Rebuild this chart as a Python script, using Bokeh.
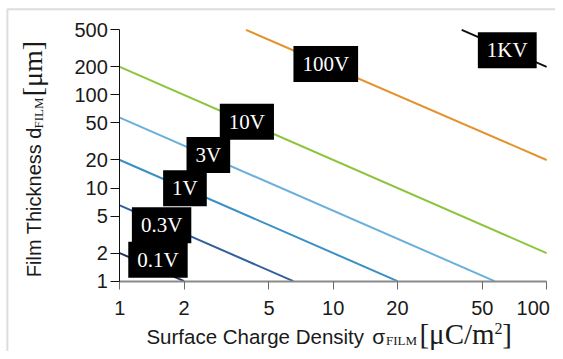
import math
from bokeh.plotting import figure
from bokeh.models import FixedTicker, Label, ColumnDataSource, BoxAnnotation
from bokeh.embed import file_html
from bokeh.resources import INLINE

# ---- data (line end points inside the axes box) ----
voltages = ["0.1V", "0.3V", "1V", "3V", "10V", "100V", "1KV"]
sigma_start = [1, 1, 1, 1, 1, 3.9, 40]          # uC/m^2
sigma_end = [2, 6.5, 20, 57, 100, 100, 100]
d_start = [2, 6.5, 20, 57, 200, 500, 500]       # um
d_end = [1, 1, 1, 1, 2, 20, 200]
line_colors = ["#24325e", "#2f5f9c", "#3a8fc4", "#6ab0dc", "#8cc43c", "#e3922c", "#111111"]

# label anchor positions (data coords)
label_x = [1.51, 1.57, 2.02, 2.60, 3.94, 9.23, 65.4]
label_y = [1.70, 3.97, 9.95, 22.6, 51.5, 215, 301]

x_ticks = [1, 2, 5, 10, 20, 50, 100]
x_tick_labels = ["1", "2", "5", "10", "20", "50", "100\u00a0"]
y_ticks = [1, 2, 5, 10, 20, 50, 100, 200, 500]
y_tick_labels = ["1", "2", "5", "10", "20", "50", "100", "200", "500"]

W, H = 555, 351
SX, SY = W / 563, H / 359          # reference px -> figure px
# axes geometry: x=1 at ref px 121, x=100 at 554; y=1 at ref px 287, y=500 at 30
xl, xr = 121 * SX, 554 * SX
yb, yt = 287 * SY, 30 * SY
pdx = (xr - xl) / 2.0
pdy = (yb - yt) / math.log10(500)
x0 = 10 ** (-xl / pdx)
x1 = 10 ** ((W - xl) / pdx)
y0 = 10 ** (-(H - yb) / pdy)
y1 = 10 ** (yb / pdy)

p = figure(width=W, height=H, x_axis_type="log", y_axis_type="log",
           x_range=(x0, x1), y_range=(y0, y1),
           output_backend="svg", toolbar_location=None,
           min_border=0)
p.outline_line_color = None
p.grid.visible = False
p.background_fill_color = "white"
p.border_fill_color = "white"

# thin grey page frame (left and top edges only visible)
p.add_layout(BoxAnnotation(left=7 * SX, right=W + 50, top=H - 9 * SY, bottom=-50,
                           left_units="screen", right_units="screen",
                           top_units="screen", bottom_units="screen",
                           fill_color=None, line_color="#8e8e8e", line_width=2))

xa = p.xaxis[0]
ya = p.yaxis[0]
xa.fixed_location = 1
xa.bounds = (1, 100)
ya.fixed_location = 1
ya.bounds = (1, 500)

xa.ticker = FixedTicker(ticks=x_ticks)
xa.major_label_overrides = dict(zip(x_ticks, x_tick_labels))
ya.ticker = FixedTicker(ticks=y_ticks)
ya.major_label_overrides = dict(zip(y_ticks, y_tick_labels))

for ax in (xa, ya):
    ax.minor_tick_line_color = None
    ax.major_label_text_font = "Liberation Sans"
    ax.major_label_text_font_size = "20px"
    ax.major_label_text_color = "#1a1a1a"
    ax.major_tick_in = 0
    ax.axis_label = None

xa.axis_line_color = "#8a8a8a"
xa.major_tick_line_color = "#6a6a6a"
xa.axis_line_width = 2
xa.major_tick_out = 8
xa.major_label_standoff = 8
ya.axis_line_color = "#111111"
ya.major_tick_line_color = "#111111"
ya.major_tick_out = 9
ya.major_label_standoff = 3

for xs, xe, ys, ye, c in zip(sigma_start, sigma_end, d_start, d_end, line_colors):
    src = ColumnDataSource(dict(x=[xs, xe], y=[ys, ye]))
    p.line("x", "y", source=src, line_color=c, line_width=2)

for v, lx, ly in zip(voltages, label_x, label_y):
    p.add_layout(Label(x=lx, y=ly, text=v, text_color="white",
                       text_font="Liberation Serif", text_font_size="21px",
                       text_align="center", text_baseline="middle",
                       background_fill_color="black", padding=(9, 6)))

# ---- axis titles built from pieces (given in reference px; screen origin = bottom-left) ----
def piece(rx, ry, text, font, size, angle=0.0):
    shift = 0.3 * size
    if angle == 0.0:
        fx, fy = rx * SX, ry * SY - shift
    else:
        fx, fy = rx * SX - shift, ry * SY
    p.add_layout(Label(x=fx, y=H - fy, x_units="screen", y_units="screen", text=text,
                       text_font=font, text_font_size=f"{size}px", text_color="#1a1a1a",
                       text_align="left", text_baseline="alphabetic", angle=angle))

piece(148, 350, "Surface Charge Density", "Liberation Sans", 20.5)
piece(377, 350, "\u03c3", "Liberation Sans", 21)
piece(391, 352, "FILM", "Liberation Serif", 13)
piece(425, 350, "[\u03bcC/m", "Liberation Serif", 29)
piece(501, 340, "2", "Liberation Serif", 16)
piece(509, 350, "]", "Liberation Serif", 29)

a = math.pi / 2
piece(40, 283, "Film Thickness d", "Liberation Sans", 20, a)
piece(43, 131, "FILM", "Liberation Serif", 13, a)
piece(41, 98, "[\u03bcm]", "Liberation Serif", 28, a)

open("out.html", "w").write(file_html(p, INLINE))
